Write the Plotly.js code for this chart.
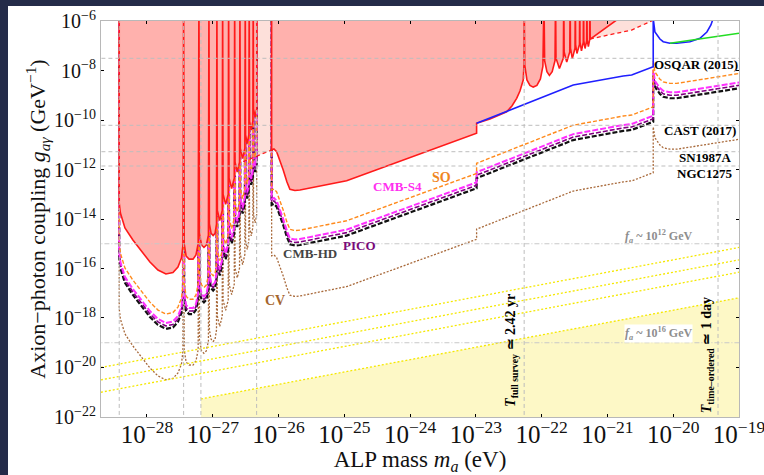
<!DOCTYPE html>
<html>
<head>
<meta charset="utf-8">
<script src="https://cdn.plot.ly/plotly-3.0.1.min.js"></script>
<style>
  html, body { margin: 0; padding: 0; background: #242b49; }
  #plot { position: absolute; left: 8px; top: 6px; width: 756px; height: 469px; background: #fff; }
</style>
</head>
<body>
<div id="plot"></div>
<script>
// All values are log10 exponents: mass in eV, coupling in GeV^-1.
// Spike tops are placed at -5 (above the visible range) so they run off the top.

// Low-mass oscillating region (shared mass grid for every curve)
const LEFT_M = [-28.422, -28.422, -28.404, -28.335, -28.214, -28.107, -27.955, -27.833, -27.712, -27.605, -27.529, -27.476, -27.453, -27.443,
  -27.434, -27.405, -27.36, -27.30, -27.255, -27.222, -27.210,
  -27.202, -27.17, -27.134, -27.098, -27.066, -27.058,
  -27.051, -27.025, -26.994, -26.965, -26.943, -26.937,
  -26.930, -26.894, -26.856, -26.850,
  -26.843, -26.804, -26.765, -26.759,
  -26.752, -26.713, -26.673, -26.667,
  -26.661, -26.628, -26.593, -26.587,
  -26.581, -26.546, -26.512, -26.506,
  -26.501, -26.476, -26.451, -26.446,
  -26.441, -26.415, -26.390, -26.385,
  -26.380, -26.356, -26.333, -26.328];

const RED_LEFT_G = [-5, -13.354, -13.758, -14.364, -14.848, -15.212, -15.737, -16.061, -16.222, -16.162, -15.939, -15.576, -15.051, -5,
  -15.0, -15.5, -15.62, -15.62, -15.45, -15.0, -5,
  -14.60, -15.05, -15.15, -15.05, -14.65, -5,
  -14.2, -14.58, -14.67, -14.58, -14.2, -5,
  -13.65, -14.06, -13.65, -5,
  -13.0, -13.41, -13.0, -5,
  -12.35, -12.77, -12.35, -5,
  -11.7, -12.10, -11.7, -5,
  -11.15, -11.56, -11.15, -5,
  -10.6, -10.95, -10.6, -5,
  -10.05, -10.40, -10.05, -5,
  -9.55, -9.88, -9.55, -5];

// Existing bound, higher masses (with the second oscillation train)
const RED_RIGHT_M = [-26.105, -26.105, -26.070, -26.029, -25.979, -25.929, -25.872, -25.827, -25.751, -25.675, -24.965, -24.109, -23.698, -22.989, -22.989, -22.786, -22.532, -22.452, -22.380, -22.330, -22.280, -22.269, -22.266,
  -22.257, -22.224, -22.178, -22.128, -22.072, -22.019, -21.981, -21.965,
  -21.955, -21.920, -21.882, -21.840, -21.797, -21.789,
  -21.782, -21.730, -21.670, -21.664,
  -21.658, -21.619, -21.573, -21.567,
  -21.562, -21.534, -21.493, -21.488,
  -21.484, -21.464, -21.425, -21.421,
  -21.417, -21.395, -21.367, -21.363,
  -21.359, -21.340, -21.316, -21.312,
  -21.308, -21.290, -21.270, -21.266,
  -21.262, -20.860, -20.80];
const RED_RIGHT_G = [-5, -11.212, -11.172, -11.281, -11.64, -12.02, -12.505, -12.80, -12.848, -12.828, -12.453, -11.616, -11.212, -10.537, -10.133, -9.96, -9.665, -9.434, -9.123, -8.828, -8.384, -7.778, -5,
  -7.78, -8.38, -8.60, -8.67, -8.60, -8.34, -7.82, -5,
  -7.6, -8.05, -8.20, -8.05, -7.6, -5,
  -7.5, -7.92, -7.5, -5,
  -7.25, -7.66, -7.25, -5,
  -7.1, -7.52, -7.1, -5,
  -6.95, -7.31, -6.95, -5,
  -6.85, -7.21, -6.85, -5,
  -6.8, -7.11, -6.8, -5,
  -6.75, -7.03, -6.75, -5,
  -6.73, -5.96, -5.7];

// Weaker existing bound (dashed red, light pink area above it)
const PINK_A_M = [-26.537, -26.105, -26.105, -26.537];
const PINK_A_G = [-11.685, -11.212, -5, -5];
const PINK_B_M = [-21.266, -20.632, -20.25, -20.25, -21.266];
const PINK_B_G = [-6.727, -6.364, -5.9, -5, -5];
const RED_DASH_A_M = [-26.537, -26.105];
const RED_DASH_A_G = [-11.685, -11.212];
const RED_DASH_B_M = [-21.266, -20.632, -20.25];
const RED_DASH_B_G = [-6.727, -6.364, -5.9];

// Blue and green bounds
const BLUE_M = [-22.989, -22.280, -21.520, -20.760, -20.632, -20.304, -20.304, -20.278, -20.202, -20.152, -20.050, -19.948, -19.746, -19.594, -19.488, -19.427, -19.38];
const BLUE_G = [-10.133, -9.394, -8.586, -8.222, -8.182, -7.846, -5.9, -6.444, -6.727, -6.836, -6.901, -6.901, -6.836, -6.699, -6.444, -6.162, -5.8];
const GREEN_M = [-20.05, -19.0];
const GREEN_G = [-6.901, -6.497];

// Forecast sensitivities: low-mass part on LEFT_M, high-mass part on PROJ_RIGHT_M
const PROJ_RIGHT_M = [-26.105, -26.105, -26.070, -26.029, -25.979, -25.929, -25.872, -25.827, -25.751, -25.675, -24.965, -24.109, -23.698, -22.989, -22.989, -22.280, -21.520, -20.760, -20.632, -20.304, -20.304, -20.278, -20.202, -20.152, -20.050, -19.948, -19.000];

const SO_LEFT = [-5, -14.97, -15.38, -15.98, -16.47, -16.83, -17.36, -17.68, -17.84, -17.78, -17.56, -17.20, -16.67, -5,
  -16.62, -17.12, -17.24, -17.24, -17.07, -16.62, -5,
  -16.22, -16.67, -16.77, -16.67, -16.27, -5,
  -15.82, -16.20, -16.29, -16.20, -15.82, -5,
  -15.27, -15.68, -15.27, -5,
  -14.62, -15.03, -14.62, -5,
  -13.97, -14.39, -13.97, -5,
  -13.32, -13.72, -13.32, -5,
  -12.77, -13.18, -12.77, -5,
  -12.22, -12.57, -12.22, -5,
  -11.67, -12.02, -11.67, -5,
  -11.17, -11.50, -11.17, -5];
const SO_RIGHT = [-5, -12.83, -12.79, -12.90, -13.26, -13.64, -14.13, -14.42, -14.47, -14.45, -14.07, -13.24, -12.83, -12.16, -11.75, -11.01, -10.21, -9.84, -9.80, -9.47, -7.62, -8.06, -8.35, -8.46, -8.52, -8.52, -8.12];

const S4_LEFT = [-5, -15.33, -15.74, -16.34, -16.83, -17.19, -17.72, -18.04, -18.20, -18.14, -17.92, -17.56, -17.03, -5,
  -16.98, -17.48, -17.60, -17.60, -17.43, -16.98, -5,
  -16.58, -17.03, -17.13, -17.03, -16.63, -5,
  -16.18, -16.56, -16.65, -16.56, -16.18, -5,
  -15.63, -16.04, -15.63, -5,
  -14.98, -15.39, -14.98, -5,
  -14.33, -14.75, -14.33, -5,
  -13.68, -14.08, -13.68, -5,
  -13.13, -13.54, -13.13, -5,
  -12.58, -12.93, -12.58, -5,
  -12.03, -12.38, -12.03, -5,
  -11.53, -11.86, -11.53, -5];
const S4_RIGHT = [-5, -13.19, -13.15, -13.26, -13.62, -14.00, -14.49, -14.78, -14.83, -14.81, -14.43, -13.60, -13.19, -12.52, -12.11, -11.37, -10.57, -10.20, -10.16, -9.83, -7.98, -8.42, -8.71, -8.82, -8.88, -8.88, -8.48];

const PICO_LEFT = [-5, -15.45, -15.86, -16.46, -16.95, -17.31, -17.84, -18.16, -18.32, -18.26, -18.04, -17.68, -17.15, -5,
  -17.10, -17.60, -17.72, -17.72, -17.55, -17.10, -5,
  -16.70, -17.15, -17.25, -17.15, -16.75, -5,
  -16.30, -16.68, -16.77, -16.68, -16.30, -5,
  -15.75, -16.16, -15.75, -5,
  -15.10, -15.51, -15.10, -5,
  -14.45, -14.87, -14.45, -5,
  -13.80, -14.20, -13.80, -5,
  -13.25, -13.66, -13.25, -5,
  -12.70, -13.05, -12.70, -5,
  -12.15, -12.50, -12.15, -5,
  -11.65, -11.98, -11.65, -5];
const PICO_RIGHT = [-5, -13.31, -13.27, -13.38, -13.74, -14.12, -14.61, -14.90, -14.95, -14.93, -14.55, -13.72, -13.31, -12.64, -12.23, -11.49, -10.69, -10.32, -10.28, -9.95, -8.10, -8.54, -8.83, -8.94, -9.00, -9.00, -8.60];

const HD_LEFT = [-5, -15.57, -15.98, -16.58, -17.07, -17.43, -17.96, -18.28, -18.44, -18.38, -18.16, -17.80, -17.27, -5,
  -17.22, -17.72, -17.84, -17.84, -17.67, -17.22, -5,
  -16.82, -17.27, -17.37, -17.27, -16.87, -5,
  -16.42, -16.80, -16.89, -16.80, -16.42, -5,
  -15.87, -16.28, -15.87, -5,
  -15.22, -15.63, -15.22, -5,
  -14.57, -14.99, -14.57, -5,
  -13.92, -14.32, -13.92, -5,
  -13.37, -13.78, -13.37, -5,
  -12.82, -13.17, -12.82, -5,
  -12.27, -12.62, -12.27, -5,
  -11.77, -12.10, -11.77, -5];
const HD_RIGHT = [-5, -13.43, -13.39, -13.50, -13.86, -14.24, -14.73, -15.02, -15.07, -15.05, -14.67, -13.84, -13.43, -12.76, -12.35, -11.61, -10.81, -10.44, -10.40, -10.07, -8.22, -8.66, -8.95, -9.06, -9.12, -9.12, -8.72];

const CV_LEFT = [-5, -17.63, -18.04, -18.64, -19.13, -19.49, -20.02, -20.34, -20.50, -20.44, -20.22, -19.86, -19.33, -5,
  -19.28, -19.78, -19.90, -19.90, -19.73, -19.28, -5,
  -18.88, -19.33, -19.43, -19.33, -18.93, -5,
  -18.48, -18.86, -18.95, -18.86, -18.48, -5,
  -17.93, -18.34, -17.93, -5,
  -17.28, -17.69, -17.28, -5,
  -16.63, -17.05, -16.63, -5,
  -15.98, -16.38, -15.98, -5,
  -15.43, -15.84, -15.43, -5,
  -14.88, -15.23, -14.88, -5,
  -14.33, -14.68, -14.33, -5,
  -13.83, -14.16, -13.83, -5];
const CV_RIGHT = [-5, -15.49, -15.45, -15.56, -15.92, -16.30, -16.79, -17.08, -17.13, -17.11, -16.73, -15.90, -15.49, -14.82, -14.41, -13.67, -12.87, -12.50, -12.46, -12.13, -10.28, -10.72, -11.01, -11.12, -11.18, -11.18, -10.78];

// Yellow dotted reference lines (endpoints) and the shaded band
const YEL_M = [-28.70, -19.0];
const YEL_1 = [-20.0, -15.15];
const YEL_2 = [-20.5, -15.65];
const YEL_3 = [-21.0, -16.15];
const BAND_M = [-27.18, -27.18, -18.95, -18.95];
const BAND_G = [-22.5, -21.27, -17.16, -22.5];
const BAND_EDGE_M = [-27.18, -18.95];
const BAND_EDGE_G = [-21.27, -17.16];

// Reference lines
const HLINES_G = [-7.507, -10.214, -11.281, -11.859];
const FA_LINES_G = [-15.0, -19.0];
const VLINES_M = [-28.422, -27.443, -27.18, -26.333, -22.266, -19.319];

// Axes: mass 2e-29 .. 1e-19 eV, coupling 1e-22 .. 1e-6 GeV^-1
const X_RANGE = [Math.log10(2e-29), -19];
const Y_RANGE = [-22.0005, -5.9995];
const Y_TICK_EXP = [-22, -20, -18, -16, -14, -12, -10, -8, -6];

const pw = a => a.map(v => Math.pow(10, v));
const SERIF = 'Liberation Serif, Times New Roman, serif';

function line(m, g, color, width, dash, extra) {
  return Object.assign({
    type: 'scatter', mode: 'lines', x: pw(m), y: pw(g),
    line: { color: color, width: width, dash: dash || 'solid' },
    hoverinfo: 'skip', showlegend: false
  }, extra || {});
}

const traces = [];
// light pink regions
traces.push(line(PINK_A_M, PINK_A_G, 'rgba(0,0,0,0)', 0, 'solid', { fill: 'toself', fillcolor: '#fde0da' }));
traces.push(line(PINK_B_M, PINK_B_G, 'rgba(0,0,0,0)', 0, 'solid', { fill: 'toself', fillcolor: '#fde0da' }));
// yellow band
traces.push(line(BAND_M, BAND_G, 'rgba(0,0,0,0)', 0, 'solid', { fill: 'toself', fillcolor: '#fdf8c6' }));

// forecast curves
traces.push(line(LEFT_M.concat(PROJ_RIGHT_M), CV_LEFT.concat(CV_RIGHT), '#a8693a', 1.3, '2px,1.6px'));
traces.push(line(LEFT_M.concat(PROJ_RIGHT_M), HD_LEFT.concat(HD_RIGHT), '#111111', 2.2, '5px,2px'));
traces.push(line(LEFT_M.concat(PROJ_RIGHT_M), PICO_LEFT.concat(PICO_RIGHT), '#800080', 1.6, '5px,2px'));
traces.push(line(LEFT_M.concat(PROJ_RIGHT_M), S4_LEFT.concat(S4_RIGHT), '#ff30ff', 2, '6px,2px'));
traces.push(line(LEFT_M.concat(PROJ_RIGHT_M), SO_LEFT.concat(SO_RIGHT), '#ff8a1c', 1.4, '4px,2px'));

// existing bound, filled above
traces.push(line(LEFT_M.concat(RED_RIGHT_M), RED_LEFT_G.concat(RED_RIGHT_G), '#ff1a1a', 1.6, 'solid',
  { fill: 'toself', fillcolor: '#ffb1ad' }));
traces.push(line(RED_DASH_A_M, RED_DASH_A_G, '#ff1a1a', 1.3, '4px,3px'));
traces.push(line(RED_DASH_B_M, RED_DASH_B_G, '#ff1a1a', 1.3, '4px,3px'));
traces.push(line(BLUE_M, BLUE_G, '#1f1fff', 1.6));
traces.push(line(GREEN_M, GREEN_G, '#22dd22', 1.6));

// yellow dotted lines
[YEL_1, YEL_2, YEL_3].forEach(g => traces.push(line(YEL_M, g, '#f5e800', 1.3, '2px,2px')));
traces.push(line(BAND_EDGE_M, BAND_EDGE_G, '#f5e800', 1.3, '2px,2px'));

// reference lines
HLINES_G.forEach(g => traces.push(line([X_RANGE[0] - 0.1, -18.9], [g, g], '#bdbdbd', 1, '4px,3px')));
FA_LINES_G.forEach(g => traces.push(line([X_RANGE[0] - 0.1, -18.9], [g, g], '#c8c8c8', 1, '5px,2px,1px,2px')));
VLINES_M.forEach(m => traces.push(line([m, m], [-22.2, -5.8], '#bdbdbd', 1, '4px,3px')));

const ann = (x, y, text, opts) => Object.assign({
  x: x, y: y, xref: 'x', yref: 'y', text: text, showarrow: false, borderpad: 0,
  font: { family: SERIF, size: 13, color: '#000' }
}, opts || {});

const FA_FONT = { family: SERIF, size: 12, color: '#8e8e8e' };

const annotations = [
  ann(-19.0, -7.749, '<b>OSQAR (2015)</b>', { xanchor: 'right' }),
  ann(-19.03, -10.432, '<b>CAST (2017)</b>', { xanchor: 'right' }),
  ann(-19.09, -11.507, '<b>SN1987A</b>', { xanchor: 'right' }),
  ann(-19.09, -12.154, '<b>NGC1275</b>', { xanchor: 'right' }),
  ann(-23.524, -12.315, '<b>SO</b>', { font: { family: SERIF, size: 14, color: '#f0861e' } }),
  ann(-24.193, -12.667, '<b>CMB-S4</b>', { font: { family: SERIF, size: 13, color: '#ff30f0' } }),
  ann(-24.763, -15.051, '<b>PICO</b>', { font: { family: SERIF, size: 13, color: '#7a0a7a' } }),
  ann(-25.523, -15.414, '<b>CMB-HD</b>', { font: { family: SERIF, size: 13, color: '#444444' } }),
  ann(-26.055, -17.301, '<b>CV</b>', { font: { family: SERIF, size: 14, color: '#a5662e' } }),
  ann(-20.217, -14.715, '<b><i>f<sub>a</sub></i> ~ 10<sup>12</sup> GeV</b>', { font: FA_FONT }),
  ann(-20.225, -18.618, '<b><i>f<sub>a</sub></i> ~ 10<sup>16</sup> GeV</b>', { font: FA_FONT, bgcolor: '#ffffff' }),
  ann(-22.452, -19.293, '<b><i>T</i><sub>full survey</sub> ≃ 2.42 yr</b>', { textangle: -90, font: { family: SERIF, size: 14, color: '#000' } }),
  ann(-19.468, -19.495, '<b><i>T</i><sub>time\u2013ordered</sub> ≃ 1 day</b>', { textangle: -90, font: { family: SERIF, size: 14, color: '#000' } })
];

const axisCommon = {
  type: 'log', exponentformat: 'power', showexponent: 'all',
  showgrid: false, zeroline: false,
  ticks: 'inside', ticklen: 3, tickcolor: '#000', tickwidth: 1,
  showline: true, linecolor: '#b8b8b8', linewidth: 1, mirror: 'ticks',
  ticklabeloverflow: 'allow',
  tickfont: { family: SERIF, size: 20, color: '#111' }
};

const layout = {
  width: 756, height: 469,
  margin: { l: 93, r: 25, t: 15, b: 58 },
  paper_bgcolor: '#ffffff', plot_bgcolor: '#ffffff',
  showlegend: false,
  xaxis: Object.assign({}, axisCommon, {
    range: X_RANGE, dtick: 1, ticklabelstandoff: -4,
    title: { text: 'ALP mass <i>m<sub>a</sub></i> (eV)', font: { family: SERIF, size: 23, color: '#111' }, standoff: 3 }
  }),
  yaxis: Object.assign({}, axisCommon, {
    range: Y_RANGE, tickmode: 'array',
    tickvals: pw(Y_TICK_EXP),
    ticktext: Y_TICK_EXP.map(e => '10<sup>\u2212' + Math.abs(e) + '</sup>'),
    title: { text: 'Axion\u2212photon coupling <i>g<sub>aγ</sub></i> (GeV<sup>\u22121</sup>)', font: { family: SERIF, size: 22, color: '#111' }, standoff: 2 }
  }),
  annotations: annotations
};

Plotly.newPlot('plot', traces, layout, { displayModeBar: false, staticPlot: true });
</script>
</body>
</html>
